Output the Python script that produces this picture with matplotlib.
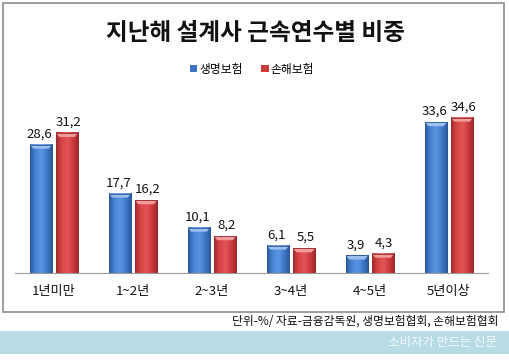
import matplotlib
matplotlib.use("Agg")
import matplotlib.pyplot as plt
import numpy as np
from matplotlib.patches import Rectangle, Polygon
from matplotlib.colors import LinearSegmentedColormap

plt.rcParams['font.family'] = ['Noto Sans CJK KR', 'DejaVu Sans']

categories = ['1년미만', '1~2년', '2~3년', '3~4년', '4~5년', '5년이상']
life = [28.6, 17.7, 10.1, 6.1, 3.9, 33.6]
nonlife = [31.2, 16.2, 8.2, 5.5, 4.3, 34.6]
series_names = ['생명보험', '손해보험']
title = '지난해 설계사 근속연수별 비중'
source = '단위-%/ 자료-금융감독원, 생명보험협회, 손해보험협회'
banner = '소비자가 만드는 신문'

W, H = 510, 360
fig = plt.figure(figsize=(W/100, H/100), dpi=100)
fig.patch.set_facecolor('white')

def fx(px): return px / W
def fy(py): return 1 - py / H

# outer border
fig.patches.append(Rectangle((fx(3), fy(312)), fx(504) - fx(3), fy(3) - fy(312),
                             transform=fig.transFigure, fill=False, edgecolor='#8c8c8c', lw=1.2))
# banner
fig.patches.append(Rectangle((0, fy(354)), 1, fy(331) - fy(354),
                             transform=fig.transFigure, facecolor='#b7dce6', edgecolor='none'))
fig.text(fx(497), fy(342.5), banner, ha='right', va='center', fontsize=9, color='#f4fafc')
fig.text(fx(499), fy(321), source, ha='right', va='center', fontsize=8.5, color='#111111')

fig.text(fx(255), fy(33), title, ha='center', va='center', fontsize=17, fontweight='bold', color='#111111')

ax = fig.add_axes([fx(14.5), fy(273), fx(488.5) - fx(14.5), fy(100) - fy(273)])
x = np.arange(len(categories))
bw = 0.28
off = 0.165
blue, red = '#3d74c8', '#cc3a3c'
cmaps = {
    'b': LinearSegmentedColormap.from_list('b', ['#2b5aa0', '#4a86d6', '#5b95e0', '#3f78c8', '#2a5798']),
    'r': LinearSegmentedColormap.from_list('r', ['#a32a2c', '#d94546', '#e25556', '#cc3a3c', '#9c2729']),
}
b1 = ax.bar(x - off, life, bw, color=blue, edgecolor='none', label=series_names[0], zorder=2)
b2 = ax.bar(x + off, nonlife, bw, color=red, edgecolor='none', label=series_names[1], zorder=2)
grad = np.linspace(0, 1, 64).reshape(1, -1)
for bars, cm, hl, ec in ((b1, cmaps['b'], '#9cc0ee', '#2a5596'), (b2, cmaps['r'], '#f09a9b', '#962a2b')):
    for r in bars:
        x0, w, h = r.get_x(), r.get_width(), r.get_height()
        ax.imshow(grad, cmap=cm, extent=(x0, x0 + w, 0, h), aspect='auto', zorder=2.5, interpolation='bilinear')
        cap = 0.9
        ax.add_patch(Polygon([(x0, h), (x0 + w, h), (x0 + w*0.85, h - cap), (x0 + w*0.15, h - cap)],
                             closed=True, facecolor=hl, edgecolor='none', zorder=3))
        ax.add_patch(Rectangle((x0, 0), w, h, fill=False, edgecolor=ec, lw=0.6, zorder=3.5))

for xi, v in zip(x - off, life):
    ax.annotate(f'{v:.1f}'.replace('.', ','), (xi, v), xytext=(-1, 3), textcoords='offset points',
                ha='center', va='bottom', fontsize=9.5, color='#111111')
for xi, v in zip(x + off, nonlife):
    ax.annotate(f'{v:.1f}'.replace('.', ','), (xi, v), xytext=(1, 3), textcoords='offset points',
                ha='center', va='bottom', fontsize=9.5, color='#111111')

ax.set_xlim(-0.5, 5.5)
ax.set_ylim(0, 173/4.49)
ax.set_xticks(x)
ax.set_xticklabels(categories, fontsize=9.5, color='#111111')
ax.tick_params(axis='x', length=0, pad=9)
ax.set_yticks([])
for s in ('top', 'left', 'right'):
    ax.spines[s].set_visible(False)
ax.spines['bottom'].set_color('#9a9a9a')
ax.spines['bottom'].set_zorder(4)
ax.patch.set_alpha(0)

leg = fig.legend(handles=[b1, b2], labels=series_names, loc='center', bbox_to_anchor=(fx(252), fy(69)),
                 ncol=2, frameon=False, fontsize=8.5, handlelength=0.6, handleheight=0.6,
                 handletextpad=0.2, columnspacing=1.6)

fig.savefig('out.png', dpi=100)
